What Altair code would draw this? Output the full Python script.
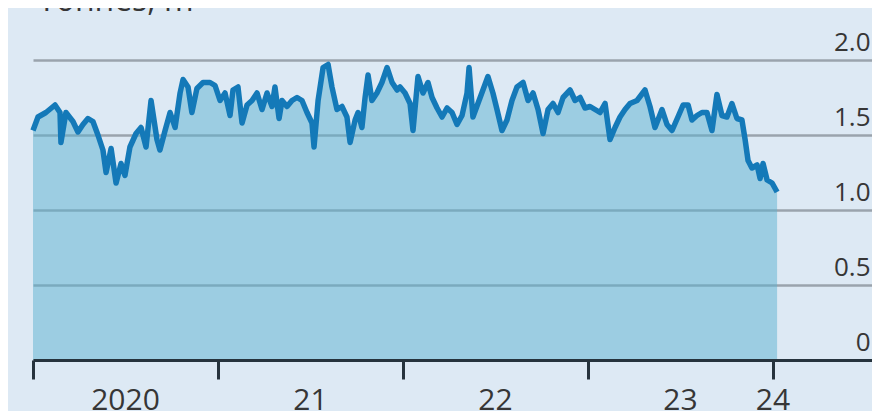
import altair as alt
import pandas as pd

# decimal year positions and values (tonnes, m)
years = [
    2020.000, 2020.027, 2020.070, 2020.119, 2020.146, 2020.151, 2020.178, 2020.216, 2020.243, 2020.270,
    2020.297, 2020.324, 2020.351, 2020.378, 2020.395, 2020.422, 2020.449, 2020.476, 2020.497, 2020.524,
    2020.557, 2020.584, 2020.611, 2020.638, 2020.670, 2020.686, 2020.714, 2020.741, 2020.768, 2020.795,
    2020.811, 2020.838, 2020.859, 2020.886, 2020.919, 2020.957, 2020.984, 2021.011, 2021.038, 2021.065,
    2021.081, 2021.108, 2021.130, 2021.157, 2021.184, 2021.211, 2021.238, 2021.265, 2021.292, 2021.308,
    2021.330, 2021.346, 2021.373, 2021.400, 2021.427, 2021.454, 2021.481, 2021.508, 2021.519, 2021.541,
    2021.568, 2021.595, 2021.616, 2021.643, 2021.670, 2021.697, 2021.714, 2021.741, 2021.757, 2021.778,
    2021.795, 2021.811, 2021.832, 2021.859, 2021.886, 2021.914, 2021.941, 2021.968, 2021.984, 2022.011,
    2022.038, 2022.054, 2022.081, 2022.108, 2022.135, 2022.157, 2022.184, 2022.211, 2022.238, 2022.265,
    2022.292, 2022.319, 2022.346, 2022.357, 2022.378, 2022.405, 2022.432, 2022.459, 2022.486, 2022.508,
    2022.535, 2022.562, 2022.589, 2022.616, 2022.649, 2022.676, 2022.703, 2022.730, 2022.757, 2022.784,
    2022.811, 2022.838, 2022.865, 2022.903, 2022.930, 2022.957, 2022.984, 2023.011, 2023.038, 2023.065,
    2023.092, 2023.119, 2023.146, 2023.173, 2023.200, 2023.227, 2023.265, 2023.308, 2023.335, 2023.362,
    2023.400, 2023.427, 2023.454, 2023.486, 2023.514, 2023.541, 2023.562, 2023.589, 2023.616, 2023.643,
    2023.670, 2023.697, 2023.724, 2023.751, 2023.778, 2023.805, 2023.832, 2023.849, 2023.865, 2023.886,
    2023.914, 2023.930, 2023.946, 2023.968, 2023.995, 2024.022,
]
values = [
    1.53, 1.62, 1.65, 1.70, 1.65, 1.45, 1.65, 1.59, 1.52, 1.57,
    1.61, 1.59, 1.50, 1.40, 1.25, 1.41, 1.18, 1.31, 1.23, 1.42,
    1.51, 1.55, 1.42, 1.73, 1.47, 1.40, 1.53, 1.65, 1.55, 1.78,
    1.87, 1.82, 1.65, 1.81, 1.85, 1.85, 1.83, 1.73, 1.78, 1.63,
    1.80, 1.82, 1.58, 1.70, 1.73, 1.78, 1.67, 1.78, 1.69, 1.82,
    1.61, 1.73, 1.69, 1.73, 1.75, 1.73, 1.65, 1.58, 1.42, 1.73,
    1.95, 1.97, 1.82, 1.67, 1.69, 1.62, 1.45, 1.60, 1.65, 1.55,
    1.75, 1.90, 1.73, 1.78, 1.85, 1.95, 1.85, 1.80, 1.82, 1.78,
    1.71, 1.53, 1.89, 1.78, 1.85, 1.75, 1.68, 1.62, 1.68, 1.65,
    1.57, 1.63, 1.78, 1.95, 1.62, 1.71, 1.80, 1.89, 1.78, 1.67,
    1.53, 1.60, 1.73, 1.82, 1.85, 1.73, 1.78, 1.67, 1.51, 1.67,
    1.71, 1.65, 1.75, 1.80, 1.73, 1.75, 1.68, 1.69, 1.67, 1.65,
    1.71, 1.47, 1.55, 1.62, 1.67, 1.71, 1.73, 1.80, 1.69, 1.55,
    1.67, 1.57, 1.53, 1.62, 1.70, 1.70, 1.60, 1.63, 1.65, 1.65,
    1.53, 1.77, 1.63, 1.62, 1.71, 1.61, 1.60, 1.47, 1.33, 1.28,
    1.30, 1.21, 1.31, 1.20, 1.18, 1.12,
]

tick_years = [2020, 2021, 2022, 2023, 2024]
xlabel_pos = [2020.5, 2021.5, 2022.5, 2023.5, 2024.0]
xlabel_text = ["2020", "21", "22", "23", "24"]
ytick_vals = [0, 0.5, 1.0, 1.5, 2.0]
title_text = ["Tonnes, m"]

df = pd.DataFrame({"year": years, "value": values})
lab_df = pd.DataFrame({"pos": xlabel_pos, "txt": xlabel_text})
title_df = pd.DataFrame({"t": title_text})

FONT = "Open Sans"
TEXT = "#363636"
AXIS_DARK = "#26333d"

xscale = alt.Scale(domain=[2020, 2024.535], nice=False, zero=False)

x_enc = alt.X(
    "year:Q",
    scale=xscale,
    axis=alt.Axis(
        values=tick_years,
        labels=False,
        grid=False,
        tickSize=19,
        tickWidth=3,
        tickColor=AXIS_DARK,
        domainColor=AXIS_DARK,
        domainWidth=3,
        title=None,
        zindex=1,
    ),
)
y_enc = alt.Y(
    "value:Q",
    scale=alt.Scale(domain=[0, 2], nice=False),
    axis=alt.Axis(
        orient="right",
        values=ytick_vals,
        labelExpr="datum.value == 0 ? '0' : format(datum.value, '.1f')",
        domain=False,
        ticks=False,
        tickSize=0,
        labelPadding=-2,
        labelAlign="right",
        labelBaseline="alphabetic",
        labelOffset=-10,
        labelFontSize=26,
        labelFont=FONT,
        labelColor=TEXT,
        grid=True,
        gridColor="#9aa3ad",
        gridWidth=2.5,
        title=None,
    ),
)

base = alt.Chart(df)
area = base.mark_area(color="#5cb2d0", opacity=0.5).encode(x=x_enc, y=y_enc)
line = base.mark_line(color="#1479b8", strokeWidth=5.5, strokeJoin="round").encode(
    x=x_enc, y=y_enc
)

xlabels = alt.Chart(lab_df).mark_text(
    font=FONT, fontSize=30, color=TEXT, align="center", baseline="alphabetic"
).encode(
    x=alt.X("pos:Q", scale=xscale),
    y=alt.value(350),
    text="txt:N",
)

title = alt.Chart(title_df).mark_text(
    font=FONT, fontSize=32, color=TEXT, align="left", baseline="alphabetic"
).encode(
    x=alt.value(5),
    y=alt.value(-49),
    text="t:N",
)

chart = (
    alt.layer(area, line, xlabels, title)
    .properties(
        width=839,
        height=300,
        autosize=alt.AutoSizeParams(type="none"),
        padding={"left": 25, "top": 52, "right": 0, "bottom": 51},
    )
    .configure(background="#dde9f4")
    .configure_view(strokeWidth=0)
)

chart.save("out.html", embed_options={"renderer": "svg", "actions": False})
